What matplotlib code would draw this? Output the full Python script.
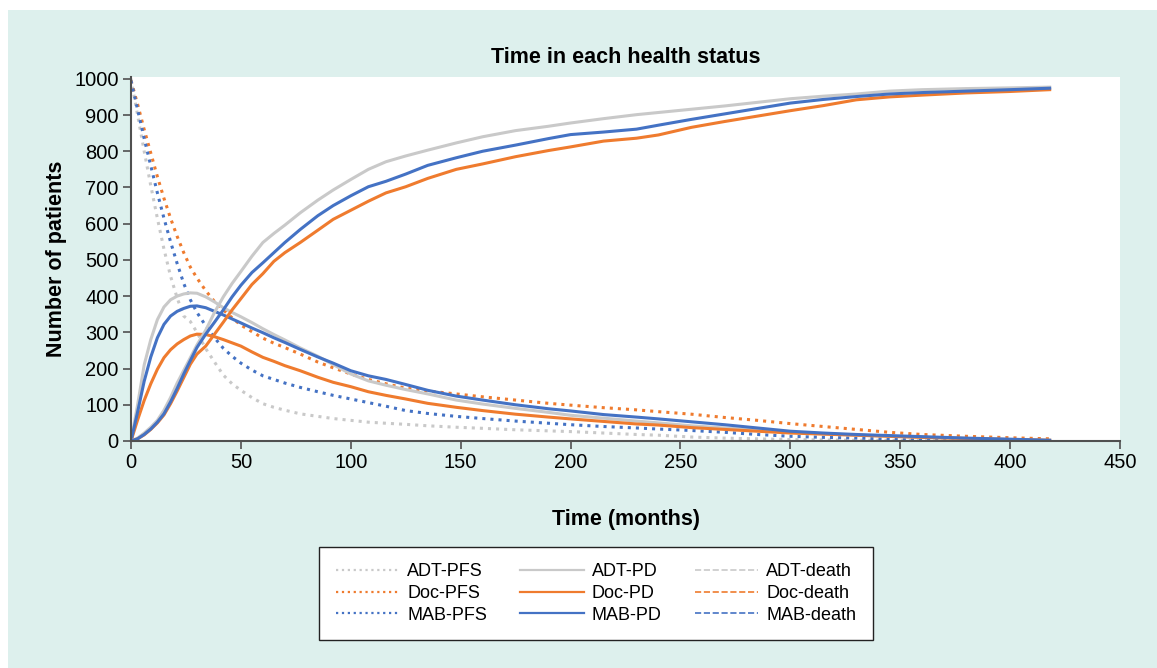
import matplotlib as mpl
mpl.use('Agg')
import matplotlib.pyplot as plt
from matplotlib.lines import Line2D
from matplotlib.patches import Rectangle

plt.rcParams['font.family'] = ['Liberation Sans', 'DejaVu Sans']

# time grid (months)
t = [0, 3, 6, 9, 12, 15, 18, 21, 24, 27, 30, 34, 38, 42, 46, 50, 55, 60, 65, 70,
     77, 85, 92, 100, 108, 116, 125, 135, 148, 160, 175, 190, 200, 215, 230, 240,
     255, 270, 285, 300, 315, 330, 345, 360, 380, 400, 418]

adt_pfs = [1000, 900, 800, 705, 615, 530, 455, 395, 345, 330, 300, 255, 218, 182, 158, 140,
           120, 103, 93, 85, 75, 68, 62, 57, 52, 49, 46, 42, 38, 35, 31, 28, 26, 22, 18, 16,
           11, 8, 6, 4, 3, 2, 2, 1, 1, 1, 1]
doc_pfs = [995, 930, 860, 795, 730, 670, 615, 565, 520, 480, 450, 415, 385, 362, 340, 320,
           302, 284, 270, 258, 240, 218, 202, 185, 170, 158, 146, 138, 130, 122, 113, 104, 99,
           92, 86, 81, 74, 65, 57, 48, 40, 32, 24, 18, 13, 9, 6]
mab_pfs = [995, 915, 835, 760, 685, 615, 550, 490, 435, 390, 355, 318, 285, 256, 234, 215,
           196, 180, 170, 160, 148, 136, 126, 116, 106, 96, 84, 76, 68, 62, 55, 49, 45, 40,
           36, 33, 29, 24, 18, 13, 10, 8, 6, 4, 2, 1, 1]

adt_pd = [0, 100, 210, 280, 335, 370, 390, 400, 406, 409, 408, 398, 384, 368, 355, 343,
          327, 310, 294, 279, 257, 234, 211, 185, 166, 154, 142, 130, 113, 102, 90, 79, 71,
          63, 55, 50, 42, 36, 30, 24, 20, 16, 13, 10, 7, 4, 2]
doc_pd = [0, 58, 112, 158, 198, 230, 252, 268, 280, 290, 295, 294, 288, 280, 271, 262,
          246, 231, 220, 208, 194, 176, 162, 150, 136, 126, 116, 104, 93, 84, 74, 66, 61,
          54, 47, 44, 37, 32, 27, 22, 19, 16, 13, 10, 7, 4, 2]
mab_pd = [0, 80, 165, 232, 285, 322, 345, 358, 366, 372, 373, 368, 358, 348, 337, 326,
          312, 299, 285, 272, 253, 232, 215, 194, 180, 170, 156, 140, 124, 113, 100, 89, 83,
          73, 66, 61, 53, 45, 36, 27, 22, 18, 15, 12, 8, 5, 2]

adt_death = [0, 8, 22, 38, 57, 85, 120, 160, 195, 230, 265, 306, 355, 398, 435, 468, 510,
             548, 573, 596, 630, 665, 693, 722, 750, 771, 787, 803, 823, 840, 857, 869, 878,
             890, 901, 907, 916, 925, 935, 945, 952, 958, 966, 970, 973, 975, 977]
doc_death = [0, 6, 17, 32, 50, 72, 103, 138, 175, 212, 240, 262, 295, 328, 362, 393, 432,
             462, 496, 520, 548, 582, 612, 637, 662, 685, 702, 725, 750, 765, 785, 802, 812,
             828, 836, 845, 866, 882, 897, 912, 926, 942, 950, 955, 961, 965, 970]
mab_death = [0, 6, 18, 33, 52, 75, 108, 145, 185, 222, 258, 295, 328, 362, 398, 430, 465,
             492, 520, 548, 584, 622, 650, 677, 702, 717, 737, 761, 782, 800, 817, 835, 846,
             853, 861, 872, 888, 903, 918, 933, 943, 951, 958, 962, 966, 970, 974]

gray = '#c9c9c9'
orange = '#ef7b2e'
blue = '#4472c4'

fig = plt.figure(figsize=(11.57, 6.68), dpi=100)
fig.patch.set_facecolor('white')
fig.patches.append(Rectangle((8/1157, 0), 1, 1 - 10/668, transform=fig.transFigure,
                             facecolor='#ddf0ed', edgecolor='none', zorder=-10))

ax = fig.add_axes([131/1157, 1 - 441/668, (1120 - 131)/1157, (441 - 77)/668])
ax.set_facecolor('white')

lw = 2.2
ax.plot(t, adt_pfs, color=gray, ls=':', lw=lw)
ax.plot(t, doc_pfs, color=orange, ls=':', lw=lw)
ax.plot(t, mab_pfs, color=blue, ls=':', lw=lw)
ax.plot(t, adt_pd, color=gray, lw=lw)
ax.plot(t, doc_pd, color=orange, lw=lw)
ax.plot(t, mab_pd, color=blue, lw=lw)
ax.plot(t, adt_death, color=gray, lw=lw)
ax.plot(t, doc_death, color=orange, lw=lw)
ax.plot(t, mab_death, color=blue, lw=lw)

ax.set_xlim(0, 450)
ax.set_ylim(0, 1005)
ax.set_xticks(range(0, 451, 50))
ax.set_yticks(range(0, 1001, 100))
for s in ['top', 'right']:
    ax.spines[s].set_visible(False)
for s in ['left', 'bottom']:
    ax.spines[s].set_color('#505050')
    ax.spines[s].set_linewidth(1.5)
ax.tick_params(direction='out', length=6, width=1.2, color='#505050', labelsize=14.5, pad=3)

ax.set_title('Time in each health status', fontsize=15.5, fontweight='bold', pad=10)
ax.set_xlabel('Time (months)', fontsize=15.5, fontweight='bold', labelpad=26)
ax.set_ylabel('Number of patients', fontsize=15.5, fontweight='bold', labelpad=5)

handles = [
    Line2D([], [], color=gray, ls=':', lw=1.6),
    Line2D([], [], color=orange, ls=':', lw=1.6),
    Line2D([], [], color=blue, ls=':', lw=1.6),
    Line2D([], [], color=gray, ls='-', lw=1.6),
    Line2D([], [], color=orange, ls='-', lw=1.6),
    Line2D([], [], color=blue, ls='-', lw=1.6),
    Line2D([], [], color=gray, ls='--', lw=1.2),
    Line2D([], [], color=orange, ls='--', lw=1.2),
    Line2D([], [], color=blue, ls='--', lw=1.2),
]
labels = ['ADT-PFS', 'Doc-PFS', 'MAB-PFS', 'ADT-PD', 'Doc-PD', 'MAB-PD',
          'ADT-death', 'Doc-death', 'MAB-death']
leg = fig.legend(handles, labels, ncol=3, loc='center',
                 bbox_to_anchor=(596/1157, 1 - 593.5/668), fontsize=13,
                 handlelength=3.5, handletextpad=0.45, columnspacing=1.85,
                 labelspacing=0.25, borderpad=0.9, fancybox=False, framealpha=1)
leg.get_frame().set_edgecolor('#222222')
leg.get_frame().set_linewidth(1.0)

fig.savefig('out.png', dpi=100)
